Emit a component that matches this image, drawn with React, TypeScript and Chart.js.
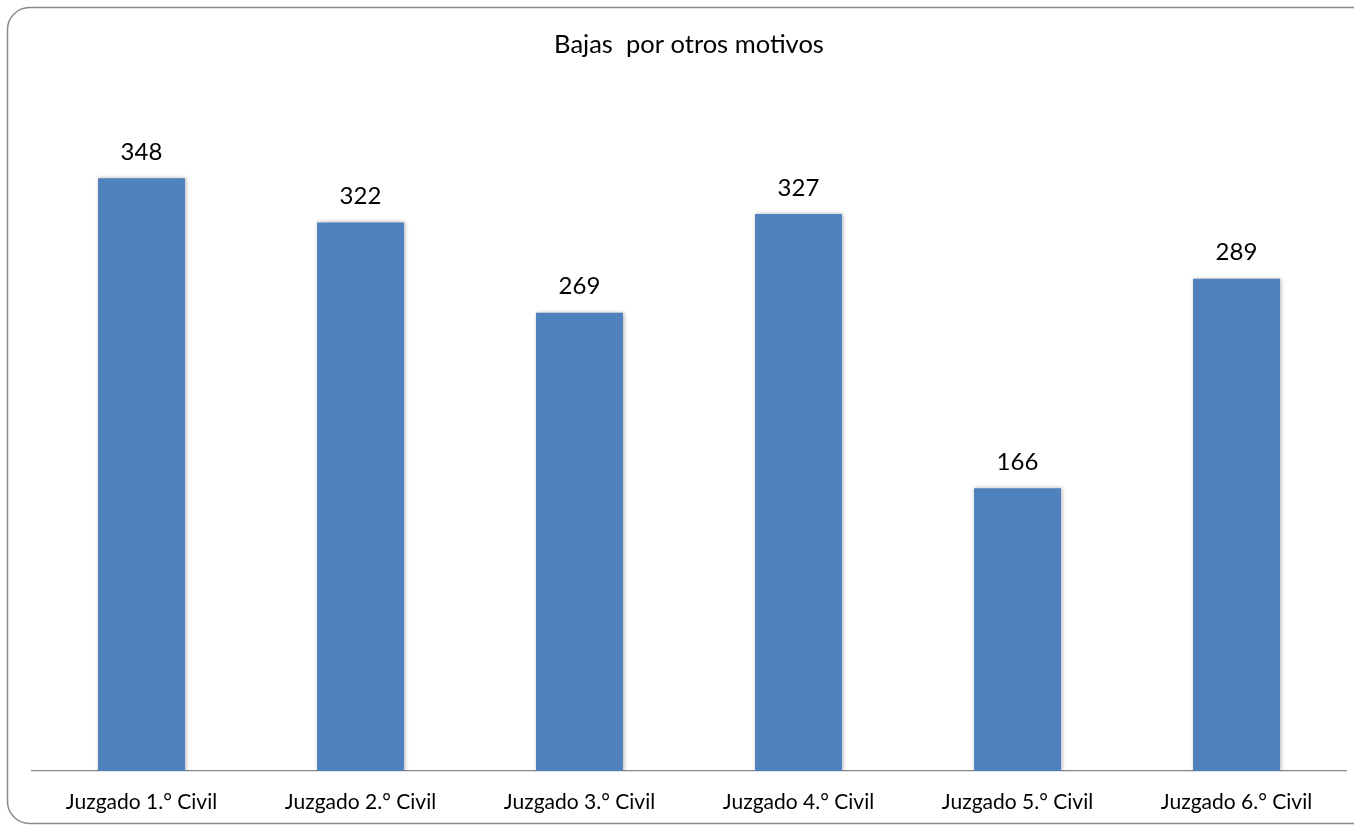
import React, { useEffect, useRef } from "react";
import { Chart, registerables } from "chart.js";

Chart.register(...registerables);

const title = "Bajas  por otros motivos";
const categories = [
  "Juzgado 1.° Civil",
  "Juzgado 2.° Civil",
  "Juzgado 3.° Civil",
  "Juzgado 4.° Civil",
  "Juzgado 5.° Civil",
  "Juzgado 6.° Civil",
];
const values = [348, 322, 269, 327, 166, 289];

const FONT = "Lato, 'Open Sans', sans-serif";

const framePlugin = {
  id: "frame",
  beforeDraw(chart: any) {
    const ctx = chart.ctx;
    ctx.save();
    ctx.fillStyle = "#ffffff";
    ctx.fillRect(0, 0, chart.width, chart.height);
    ctx.strokeStyle = "#8a8a8a";
    ctx.lineWidth = 1.5;
    const x = 7.5, y = 7.5, w = 1380, h = 816, r = 22;
    ctx.beginPath();
    ctx.moveTo(x + r, y);
    ctx.lineTo(x + w - r, y);
    ctx.arcTo(x + w, y, x + w, y + r, r);
    ctx.lineTo(x + w, y + h - r);
    ctx.arcTo(x + w, y + h, x + w - r, y + h, r);
    ctx.lineTo(x + r, y + h);
    ctx.arcTo(x, y + h, x, y + h - r, r);
    ctx.lineTo(x, y + r);
    ctx.arcTo(x, y, x + r, y, r);
    ctx.closePath();
    ctx.stroke();
    ctx.restore();
  },
};

const shadowPlugin = {
  id: "barShadow",
  beforeDatasetDraw(chart: any) {
    const ctx = chart.ctx;
    ctx.save();
    ctx.shadowColor = "rgba(0,0,0,0.3)";
    ctx.shadowBlur = 4;
    ctx.shadowOffsetX = 1;
    ctx.shadowOffsetY = 0;
  },
  afterDatasetDraw(chart: any) {
    chart.ctx.restore();
  },
};

const labelPlugin = {
  id: "valueLabels",
  afterDatasetsDraw(chart: any) {
    const ctx = chart.ctx;
    const meta = chart.getDatasetMeta(0);
    ctx.save();
    ctx.fillStyle = "#000000";
    ctx.font = `24px ${FONT}`;
    ctx.textAlign = "center";
    ctx.textBaseline = "middle";
    meta.data.forEach((bar: any, i: number) => {
      ctx.fillText(String(chart.data.datasets[0].data[i]), bar.x, bar.y - 26);
    });
    ctx.restore();
  },
};

export default function App() {
  const ref = useRef<HTMLCanvasElement>(null);
  useEffect(() => {
    const chart = new Chart(ref.current!, {
      type: "bar",
      data: {
        labels: categories,
        datasets: [
          {
            data: values,
            backgroundColor: "#4F81BD",
            borderWidth: 0,
            categoryPercentage: 1,
            barPercentage: 0.397,
          },
        ],
      },
      options: {
        animation: false,
        responsive: true,
        maintainAspectRatio: false,
        layout: { padding: { left: 32, right: 8, top: 0, bottom: 5 } },
        plugins: {
          legend: { display: false },
          tooltip: { enabled: false },
          title: {
            display: true,
            text: title,
            color: "#000000",
            font: { family: FONT, size: 25.5, weight: "normal" },
            padding: { top: 29.7, bottom: 29.3 },
          },
        },
        scales: {
          x: {
            grid: { display: false, drawTicks: false },
            border: { display: true, color: "#868686", width: 1.2 },
            ticks: {
              color: "#000000",
              font: { family: FONT, size: 21 },
              padding: 19,
              maxRotation: 0,
            },
            afterFit: (s: any) => {
              s.height = 50;
            },
          },
          y: {
            display: false,
            min: 0,
            max: 400,
          },
        },
      },
      plugins: [framePlugin, shadowPlugin, labelPlugin],
    });
    return () => chart.destroy();
  }, []);
  return (
    <div style={{ position: "fixed", left: 0, top: 0, width: 1354, height: 826 }}>
      <canvas ref={ref} />
    </div>
  );
}
